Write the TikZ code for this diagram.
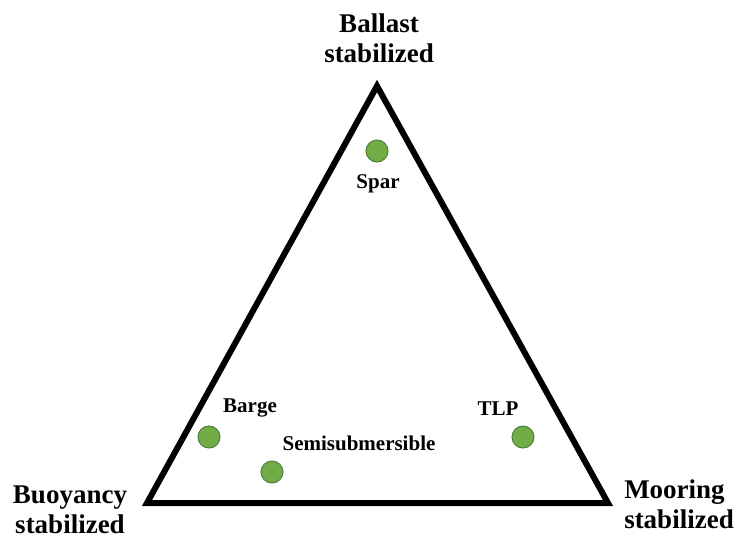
\documentclass[tikz,border=0pt]{standalone}
\usepackage{fontspec}
\setmainfont{Liberation Serif}
\usepackage{tikz}
\usetikzlibrary{calc,positioning}
\definecolor{dotgreen}{RGB}{112,173,71}
\definecolor{dotedge}{RGB}{80,126,50}
\tikzstyle{side}  =[line width=6pt, line join=miter, black]
\tikzstyle{dot}   =[circle, draw=dotedge, fill=dotgreen, minimum size=22pt,
                    line width=1pt, inner sep=0pt, outer sep=0pt]
\tikzstyle{corner}=[font=\bfseries\fontsize{27}{30}\selectfont,
                    inner sep=0pt]
\tikzstyle{kind}  =[font=\bfseries\fontsize{21}{24}\selectfont,
                    inner sep=0pt, anchor=base]

\begin{document}
\begin{tikzpicture}[x=1pt, y=-1pt]
        \useasboundingbox (0,0) rectangle (739,539);

        % corners of the triangle
        \coordinate (ballast)  at (377,86);
        \coordinate (buoyancy) at (147,503);
        \coordinate (mooring)  at (608,503);
        \draw[side] (ballast) -- (buoyancy) -- (mooring) -- cycle;

        \node[corner, align=center] (ballastlabel)  at (379,38) {Ballast\\stabilized};
        \node[corner, align=center] (buoyancylabel) at (70,510) {Buoyancy\\stabilized};
        \node[corner, align=left]   (mooringlabel)  at (679,504) {Mooring\\stabilized};

        % floating platform types
        \node[dot] (spar)  at (377,151) {};
        \node[dot] (barge) at (209,437) {};
        \node[dot] (semi)  at (272,472) {};
        \node[dot] (tlp)   at (523,437) {};

        \node[kind] (sparlabel)  at (378,188) {Spar};
        \node[kind] (bargelabel) at (250,412) {Barge};
        \node[kind] (semilabel)  at (359,450) {Semisubmersible};
        \node[kind] (tlplabel)   at (498,415) {TLP};
\end{tikzpicture}
\end{document}
